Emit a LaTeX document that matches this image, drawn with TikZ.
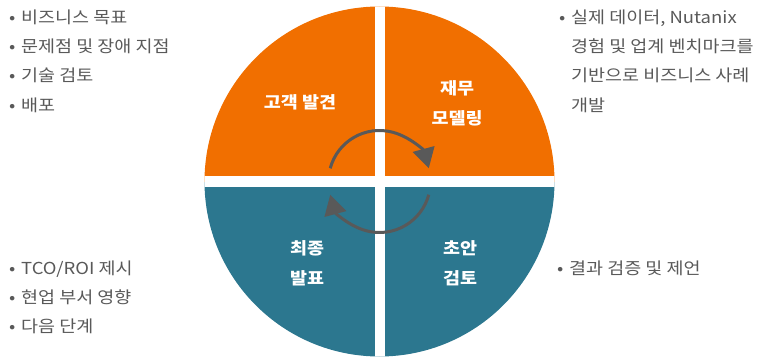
\documentclass[tikz,border=0pt]{standalone}
\usepackage{fontspec}
\setmainfont{Noto Sans CJK KR}[FakeStretch=1.12]
\usetikzlibrary{arrows.meta}
\definecolor{phaseorange}{RGB}{241,111,0}
\definecolor{phaseteal}{RGB}{44,119,143}
\definecolor{textgray}{RGB}{89,89,89}
\newcommand{\itemdot}{\makebox[12pt][l]{•}}

\begin{document}
\begin{tikzpicture}[
    x=1pt, y=1pt,
    phaselabel/.style={font=\fontsize{16.5}{30}\selectfont\bfseries, text=white, align=center},
    bulletitem/.style={anchor=base west, inner sep=0pt, font=\fontsize{16.5}{20}\selectfont, text=textgray},
    cyclearrow/.style={-{Triangle[length=20pt, width=22pt]}, line width=3pt, draw=textgray},
]
\useasboundingbox (0,0) rectangle (764,357);
\coordinate (c) at (379.5,175.5);

\begin{scope}
\clip (c) circle (175);
\fill[phaseorange] (200,175.5) rectangle (560,357);
\fill[phaseteal] (200,0) rectangle (560,175.5);
\fill[white] (374.5,0) rectangle (384.5,357);
\fill[white] (200,170) rectangle (560,181);
\end{scope}

\node[phaselabel] (discovery) at (300,255) {고객 발견};
\node[phaselabel] (modeling) at (457,254) {재무\\모델링};
\node[phaselabel] (final) at (307,94) {최종\\발표};
\node[phaselabel] (draft) at (460,94) {초안\\검토};

\draw[cyclearrow] ([shift={(165:51)}]c) arc[start angle=165, end angle=15, radius=51];
\draw[cyclearrow] ([shift={(-15:51)}]c) arc[start angle=-15, end angle=-165, radius=51];

% discovery notes
\node[bulletitem] (goal1) at (9,333) {\itemdot 비즈니스 목표};
\node[bulletitem] (goal2) at (9,304) {\itemdot 문제점 및 장애 지점};
\node[bulletitem] (goal3) at (9,275) {\itemdot 기술 검토};
\node[bulletitem] (goal4) at (9,246) {\itemdot 배포};

% modeling notes
\node[bulletitem] (model1) at (559,333) {\itemdot 실제 데이터, Nutanix};
\node[bulletitem] (model2) at (571,304) {경험 및 업계 벤치마크를};
\node[bulletitem] (model3) at (571,275) {기반으로 비즈니스 사례};
\node[bulletitem] (model4) at (571,246) {개발};

% final notes
\node[bulletitem] (final1) at (9,83) {\itemdot TCO/ROI 제시};
\node[bulletitem] (final2) at (9,54) {\itemdot 현업 부서 영향};
\node[bulletitem] (final3) at (9,25) {\itemdot 다음 단계};

% draft notes
\node[bulletitem] (draft1) at (557,83) {\itemdot 결과 검증 및 제언};
\end{tikzpicture}
\end{document}
